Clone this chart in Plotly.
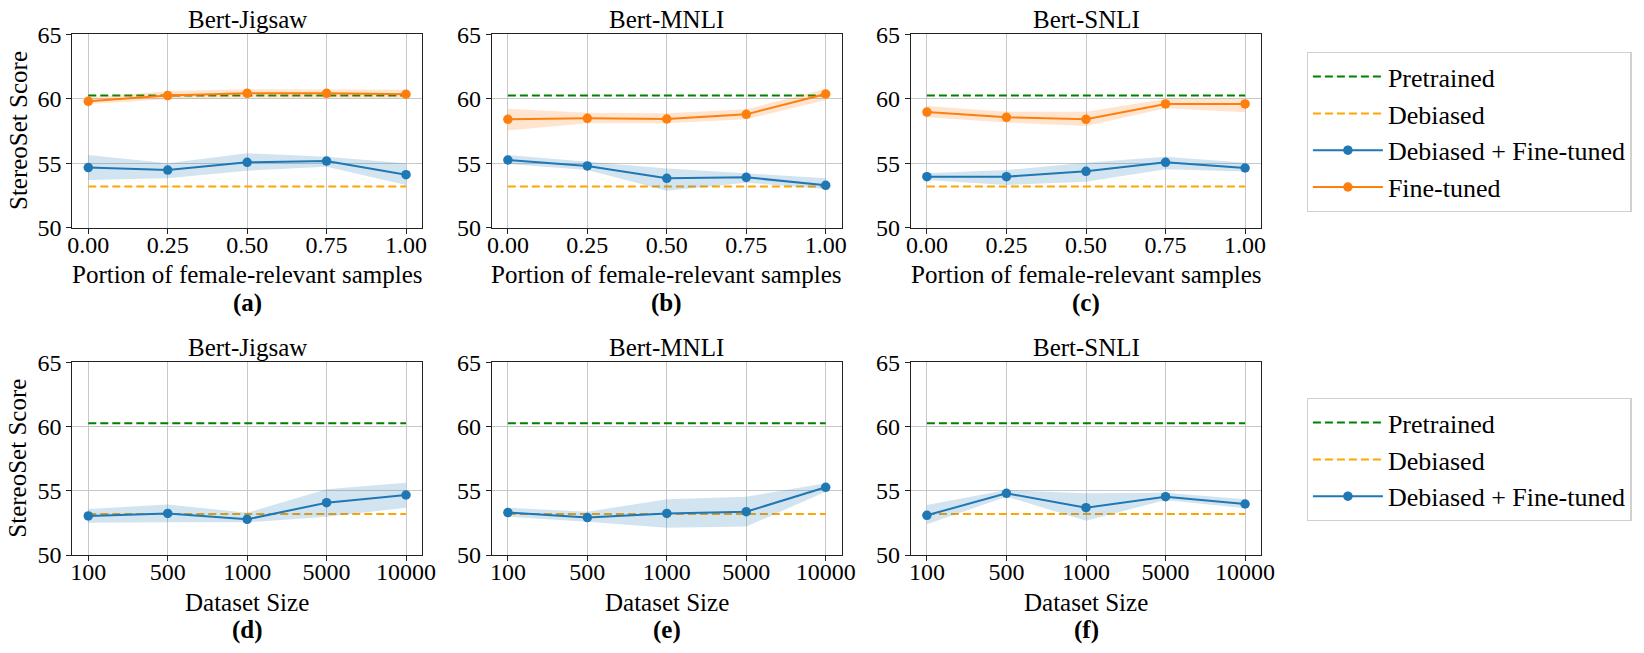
import plotly.graph_objects as go

# ---------------- data ----------------
portions = [0.0, 0.25, 0.5, 0.75, 1.0]
portion_ticks = ["0.00", "0.25", "0.50", "0.75", "1.00"]
size_labels = ["100", "500", "1000", "5000", "10000"]
size_pos = [0, 1, 2, 3, 4]

pretrained_score = 60.25
debiased_score = 53.2

titles = ["Bert-Jigsaw", "Bert-MNLI", "Bert-SNLI"]
panel_tags_top = ["(a)", "(b)", "(c)"]
panel_tags_bottom = ["(d)", "(e)", "(f)"]

# Top row: portion of female-relevant samples
jigsaw_ft = [59.8, 60.25, 60.42, 60.42, 60.35]
jigsaw_ft_lo = [59.6, 59.96, 60.09, 60.09, 60.05]
jigsaw_ft_hi = [60.09, 60.6, 60.73, 60.73, 60.7]
jigsaw_dft = [54.66, 54.47, 55.07, 55.17, 54.11]
jigsaw_dft_lo = [53.70, 53.83, 54.42, 54.73, 53.31]
jigsaw_dft_hi = [55.64, 54.99, 55.77, 55.51, 54.99]

mnli_ft = [58.41, 58.48, 58.43, 58.79, 60.37]
mnli_ft_lo = [57.53, 58.10, 58.10, 58.41, 59.91]
mnli_ft_hi = [59.23, 58.92, 58.87, 59.18, 60.78]
mnli_dft = [55.25, 54.79, 53.83, 53.91, 53.29]
mnli_dft_lo = [54.94, 54.47, 52.87, 53.49, 53.00]
mnli_dft_hi = [55.64, 55.12, 54.60, 54.22, 53.83]

snli_ft = [58.97, 58.56, 58.41, 59.60, 59.60]
snli_ft_lo = [58.56, 58.15, 57.89, 59.26, 58.95]
snli_ft_hi = [59.44, 59.00, 59.00, 59.98, 59.98]
snli_dft = [53.96, 53.96, 54.37, 55.07, 54.63]
snli_dft_lo = [53.70, 53.31, 53.57, 54.53, 54.35]
snli_dft_hi = [54.22, 54.47, 55.04, 55.51, 55.04]

# Bottom row: dataset size
jigsaw_size = [53.04, 53.24, 52.78, 54.07, 54.67]
jigsaw_size_lo = [52.52, 52.54, 52.54, 52.98, 53.68]
jigsaw_size_hi = [53.58, 53.94, 53.29, 55.11, 55.63]
mnli_size = [53.30, 52.91, 53.24, 53.37, 55.27]
mnli_size_lo = [52.98, 52.59, 52.13, 52.21, 54.93]
mnli_size_hi = [53.68, 53.37, 54.33, 54.54, 55.58]
snli_size = [53.09, 54.80, 53.68, 54.54, 53.97]
snli_size_lo = [52.39, 54.54, 52.67, 54.28, 53.63]
snli_size_hi = [53.89, 55.06, 54.80, 54.85, 54.33]

# ---------------- styling ----------------
FONT = "Liberation Serif"
BLUE = "#1f77b4"
ORANGE = "#ff7f0e"
GREEN = "#008000"
DEB = "#FFA500"
BLUE_FILL = "rgba(31,119,180,0.2)"
ORANGE_FILL = "rgba(255,127,14,0.2)"
W, H = 1644, 653
TICK_SIZE = 24
LABEL_SIZE = 25

def px_x(p):
    return p / W

def px_y(p):
    return 1 - p / H

col_px = [(72.4, 421.9), (492.0, 841.6), (911.0, 1261.0)]
row_px = [(34.3, 227.7), (362.3, 555.0)]

fig = go.Figure()

top_data = [
    (jigsaw_dft, jigsaw_dft_lo, jigsaw_dft_hi, jigsaw_ft, jigsaw_ft_lo, jigsaw_ft_hi),
    (mnli_dft, mnli_dft_lo, mnli_dft_hi, mnli_ft, mnli_ft_lo, mnli_ft_hi),
    (snli_dft, snli_dft_lo, snli_dft_hi, snli_ft, snli_ft_lo, snli_ft_hi),
]
bottom_data = [
    (jigsaw_size, jigsaw_size_lo, jigsaw_size_hi),
    (mnli_size, mnli_size_lo, mnli_size_hi),
    (snli_size, snli_size_lo, snli_size_hi),
]

def add_band(x, lo, hi, fill, xa, ya):
    fig.add_trace(go.Scatter(
        x=list(x) + list(x)[::-1], y=list(hi) + list(lo)[::-1],
        fill="toself", fillcolor=fill, line=dict(width=0), mode="lines",
        showlegend=False, hoverinfo="skip", xaxis=xa, yaxis=ya))

def add_ref_lines(x, xa, ya, show, legend):
    fig.add_trace(go.Scatter(
        x=[x[0], x[-1]], y=[pretrained_score, pretrained_score], mode="lines",
        line=dict(color=GREEN, width=2, dash="8px,4px"), name="Pretrained",
        legendgroup="pre", showlegend=show, legend=legend, xaxis=xa, yaxis=ya))
    fig.add_trace(go.Scatter(
        x=[x[0], x[-1]], y=[debiased_score, debiased_score], mode="lines",
        line=dict(color=DEB, width=2, dash="8px,4px"), name="Debiased",
        legendgroup="deb", showlegend=show, legend=legend, xaxis=xa, yaxis=ya))

def add_series(x, y, color, name, group, xa, ya, show, legend):
    fig.add_trace(go.Scatter(
        x=x, y=y, mode="lines+markers", name=name, legendgroup=group,
        line=dict(color=color, width=2), marker=dict(color=color, size=9.5),
        showlegend=show, legend=legend, xaxis=xa, yaxis=ya))

axis_common = dict(
    showline=True, mirror=True, linecolor="#222222", linewidth=1.2,
    ticks="outside", ticklen=5, tickwidth=1.2, tickcolor="#222222",
    showgrid=True, gridcolor="#c8c8c8", gridwidth=1.2, zeroline=False,
    automargin=False,
    tickfont=dict(family=FONT, size=TICK_SIZE, color="black"),
)

layout_axes = {}
annotations = []
for r in range(2):
    for c in range(3):
        idx = r * 3 + c + 1
        xa = "x" if idx == 1 else f"x{idx}"
        ya = "y" if idx == 1 else f"y{idx}"
        xkey = "xaxis" if idx == 1 else f"xaxis{idx}"
        ykey = "yaxis" if idx == 1 else f"yaxis{idx}"
        x0, x1 = col_px[c]
        y0, y1 = row_px[r]
        if r == 0:
            xr = [-0.05, 1.05]
            xt = dict(tickvals=portions, ticktext=portion_ticks)
        else:
            xr = [-0.2, 4.2]
            xt = dict(tickvals=size_pos, ticktext=size_labels)
        layout_axes[xkey] = dict(axis_common, domain=[px_x(x0), px_x(x1)], range=xr,
                                 anchor=ya, ticklabelstandoff=-10, **xt)
        layout_axes[ykey] = dict(axis_common, domain=[px_y(y1), px_y(y0)], range=[50, 65],
                                 tickvals=[50, 55, 60, 65], anchor=xa)

        if r == 0:
            dft, dlo, dhi, ft, flo, fhi = top_data[c]
            x = portions
            legend = "legend"
            add_ref_lines(x, xa, ya, c == 0, legend)
            add_band(x, dlo, dhi, BLUE_FILL, xa, ya)
            add_band(x, flo, fhi, ORANGE_FILL, xa, ya)
            add_series(x, dft, BLUE, "Debiased + Fine-tuned", "dft", xa, ya, c == 0, legend)
            add_series(x, ft, ORANGE, "Fine-tuned", "ft", xa, ya, c == 0, legend)
        else:
            dft, dlo, dhi = bottom_data[c]
            x = size_pos
            legend = "legend2"
            add_ref_lines(x, xa, ya, c == 0, legend)
            add_band(x, dlo, dhi, BLUE_FILL, xa, ya)
            add_series(x, dft, BLUE, "Debiased + Fine-tuned", "dft", xa, ya, c == 0, legend)

        cx = px_x((x0 + x1) / 2)
        annotations.append(dict(text=titles[c], x=cx, y=px_y(y0 - 15), xref="paper", yref="paper",
                                xanchor="center", yanchor="middle", showarrow=False,
                                font=dict(family=FONT, size=LABEL_SIZE, color="black")))
        xtitle = "Portion of female-relevant samples" if r == 0 else "Dataset Size"
        annotations.append(dict(text=xtitle, x=cx, y=px_y(y1 + 47), xref="paper", yref="paper",
                                xanchor="center", yanchor="middle", showarrow=False,
                                font=dict(family=FONT, size=LABEL_SIZE, color="black")))
        tag = panel_tags_top[c] if r == 0 else panel_tags_bottom[c]
        annotations.append(dict(text=f"<b>{tag}</b>", x=cx, y=px_y(y1 + 75), xref="paper", yref="paper",
                                xanchor="center", yanchor="middle", showarrow=False,
                                font=dict(family=FONT, size=LABEL_SIZE, color="black")))
    y0, y1 = row_px[r]
    annotations.append(dict(text="StereoSet Score", x=px_x(18), y=px_y((y0 + y1) / 2),
                            xref="paper", yref="paper", xanchor="center", yanchor="middle",
                            textangle=-90, showarrow=False,
                            font=dict(family=FONT, size=LABEL_SIZE, color="black")))

legend_common = dict(
    font=dict(family=FONT, size=26, color="black"),
    bordercolor="#d0d0d0", borderwidth=1.2, bgcolor="white",
    xanchor="left", yanchor="top", tracegroupgap=0, itemwidth=70,
)

fig.update_layout(
    width=W, height=H, margin=dict(l=0, r=0, t=0, b=0, pad=0, autoexpand=False),
    plot_bgcolor="white", paper_bgcolor="white",
    font=dict(family=FONT, size=TICK_SIZE, color="black"),
    annotations=annotations,
    legend=dict(legend_common, x=px_x(1306.7), y=px_y(52)),
    legend2=dict(legend_common, x=px_x(1306.7), y=px_y(398)),
    **layout_axes,
)

fig.write_html(
    "out.html",
    config={"displayModeBar": False},
    post_script="document.body.style.margin='0px';document.body.style.overflow='hidden';",
)
